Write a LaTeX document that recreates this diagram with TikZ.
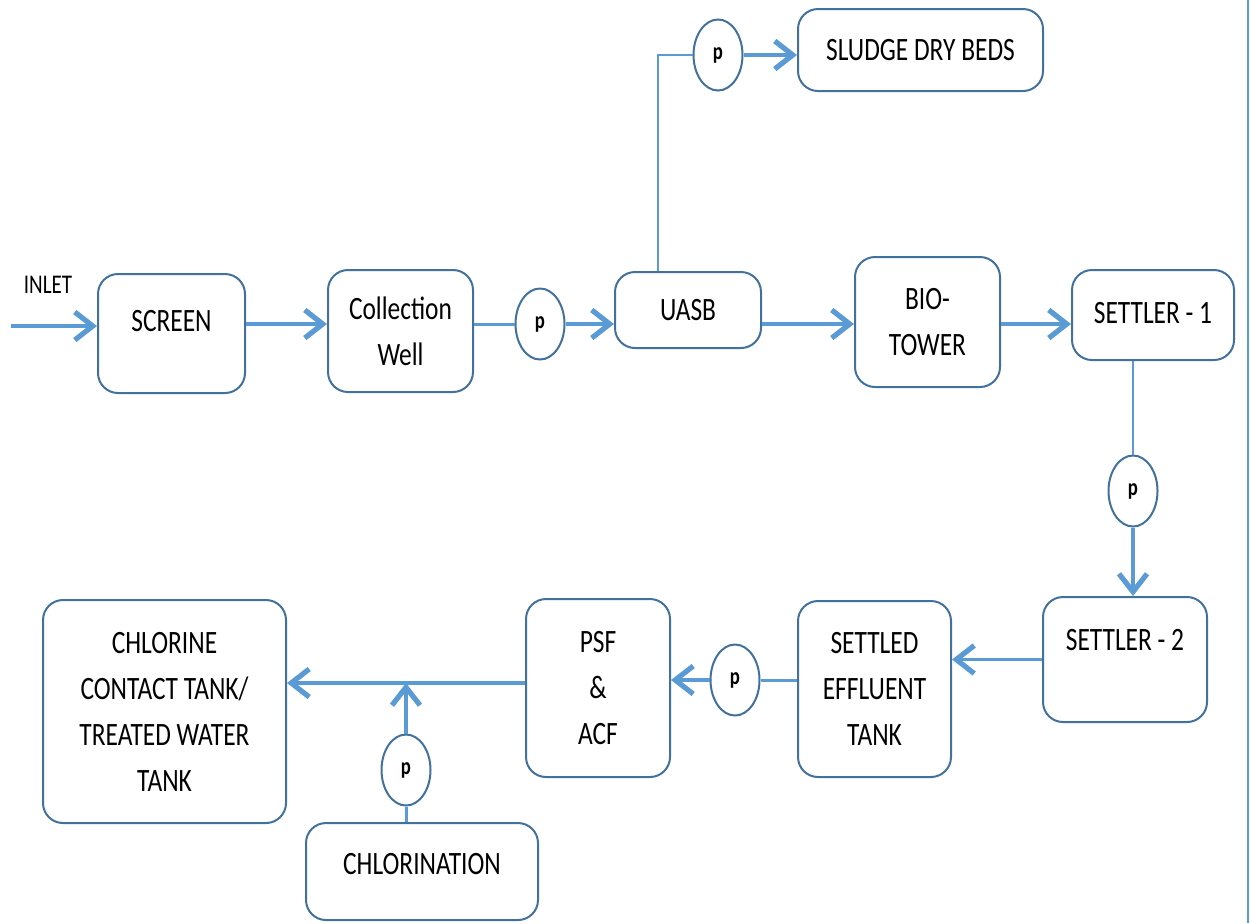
\documentclass[tikz,border=0pt]{standalone}
\usepackage{fontspec}
\setmainfont{Carlito}[FakeStretch=0.78]
\usetikzlibrary{arrows.meta}
\usetikzlibrary{shapes.geometric}
\definecolor{flowblue}{HTML}{5B9BD5}
\definecolor{edgeblue}{HTML}{41719C}
\tikzset{
  stage/.style={draw=edgeblue, line width=1pt, rounded corners=10pt, align=center,
    inner sep=2pt, font=\fontsize{16.3}{23}\selectfont},
  pump/.style={ellipse, draw=edgeblue, line width=1pt, minimum width=24.5pt,
    minimum height=35.5pt, inner sep=0pt, font=\fontsize{12}{14}\selectfont\bfseries},
  feedline/.style={draw=flowblue, line width=1.6pt,
    -{Straight Barb[length=9pt,width=14pt,line width=2.6pt]}},
  pipe/.style={draw=flowblue, line width=1.5pt},
}

\begin{document}
\begin{tikzpicture}[x=0.5pt,y=-0.5pt]
  \useasboundingbox (0,0) rectangle (1251,923);

  % Treatment units
  \node[stage, minimum width=73.5pt, minimum height=59.5pt, text depth=13pt] (screen) at (171.5,333.5) {SCREEN};
  \node[stage, minimum width=72.5pt, minimum height=61pt] (well) at (400.5,331) {Collection\\Well};
  \node[stage, minimum width=73pt, minimum height=38pt] (uasb) at (688,310) {UASB};
  \node[stage, minimum width=72.5pt, minimum height=65pt] (bio) at (927.5,322) {BIO-\\TOWER};
  \node[stage, minimum width=81pt, minimum height=45pt, text depth=2pt] (settler1) at (1153,315) {SETTLER - 1};
  \node[stage, minimum width=122.5pt, minimum height=41pt] (sludge) at (920.5,50) {SLUDGE DRY BEDS};
  \node[stage, minimum width=82pt, minimum height=62.5pt, text depth=19.5pt] (settler2) at (1125,659.5) {SETTLER - 2};
  \node[stage, minimum width=76.5pt, minimum height=88pt] (settled) at (874.5,689) {SETTLED\\EFFLUENT\\TANK};
  \node[stage, minimum width=72pt, minimum height=89pt] (psf) at (598,688) {PSF\\\&\\ACF};
  \node[stage, minimum width=121.5pt, minimum height=111.5pt] (tank) at (164.5,711.5) {CHLORINE\\CONTACT TANK/\\TREATED WATER\\TANK};
  \node[stage, minimum width=116pt, minimum height=48.5pt, text depth=7.5pt] (chlor) at (422,871.5) {CHLORINATION};

  % Pumps
  \node[pump] (p1) at (540,324) {p};
  \node[pump] (p2) at (718,55) {p};
  \node[pump] (p3) at (1133,491) {p};
  \node[pump] (p4) at (735,680) {p};
  \node[pump] (p5) at (406,770) {p};

  % Inlet
  \coordinate (inlet) at (11,326);
  \node[font=\fontsize{13.5}{16}\selectfont] (inletlabel) at (48,285) {INLET};
  \draw[feedline] (inlet) -- (screen.west |- inlet);

  % Main line
  \draw[feedline] (screen.east |- p1) -- (well.west |- p1);
  \draw[pipe] (well.east |- p1) -- (p1);
  \draw[feedline] (p1) -- (uasb.west |- p1);
  \draw[feedline] (uasb.east |- p1) -- (bio.west |- p1);
  \draw[feedline] (bio.east |- p1) -- (settler1.west |- p1);

  % Sludge
  \draw[pipe, line width=0.7pt] ([xshift=-15pt]uasb.north) |- (p2);
  \draw[feedline] (p2) -- (sludge.west |- p2);

  % Settlers
  \draw[pipe, line width=1pt] (settler1.south -| p3) -- (p3);
  \draw[feedline] (p3) -- (settler2.north -| p3);
  \draw[feedline] (settler2.west) -- (settled.east |- settler2.west);
  \draw[pipe] (settled.west |- p4) -- (p4);
  \draw[feedline] (p4) -- (psf.east |- p4);

  % Chlorine dosing
  \coordinate (dose) at (406,683);
  \draw[feedline] (psf.west |- dose) -- (tank.east |- dose);
  \draw[pipe] (chlor.north -| p5) -- (p5);
  \draw[feedline] (p5) -- (dose);

  % Page edge
  \draw[flowblue, line width=0.8pt] (1248,0) -- (1248,923);
\end{tikzpicture}
\end{document}
